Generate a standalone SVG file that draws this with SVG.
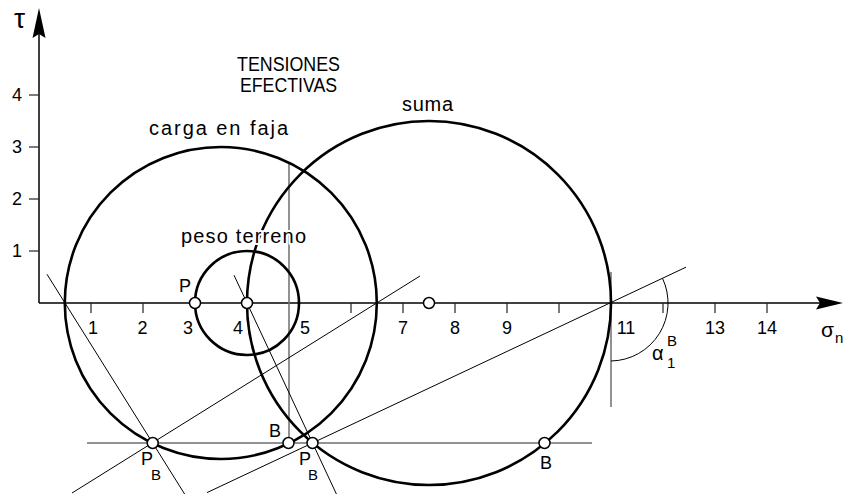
<svg xmlns="http://www.w3.org/2000/svg" width="844" height="494" viewBox="0 0 844 494">
<style>
.ax{stroke:#000;stroke-width:1.5;fill:none}
.tk{stroke:#222;stroke-width:1.2;fill:none}
.mc{stroke:#000;stroke-width:2.6;fill:none}
.cl{stroke:#000;stroke-width:1;fill:none}
.gl{stroke:#6e6e6e;stroke-width:1.5;fill:none}
.pt{stroke:#000;stroke-width:1.5;fill:#fff}
text{font-family:"Liberation Sans",Arial,sans-serif;fill:#000}
.n{font-size:18px;text-anchor:middle}
.lb{font-size:20px;stroke:#fff;stroke-width:4;paint-order:stroke;stroke-linejoin:round}
.s{font-size:18px}
.sub{font-size:15px}
</style>
<rect width="844" height="494" fill="#fff"/>
<g id="axes">
<line class="ax" x1="39" y1="303" x2="39" y2="30"/>
<line class="ax" x1="39" y1="303" x2="822" y2="303"/>
<polygon points="39,8 32.5,38 39,34 45.5,38" fill="#000"/>
<polygon points="843,303 816,296.5 820,303 816,309.5" fill="#000"/>
<g class="tk">
<line x1="91" y1="303" x2="91" y2="313"/><line x1="143" y1="303" x2="143" y2="313"/>
<line x1="351" y1="303" x2="351" y2="313"/><line x1="403" y1="303" x2="403" y2="313"/>
<line x1="455" y1="303" x2="455" y2="313"/><line x1="507" y1="303" x2="507" y2="313"/>
<line x1="559" y1="303" x2="559" y2="313"/><line x1="663" y1="303" x2="663" y2="313"/>
<line x1="715" y1="303" x2="715" y2="313"/><line x1="767" y1="303" x2="767" y2="313"/>
<line x1="29" y1="95" x2="39" y2="95"/><line x1="29" y1="147" x2="39" y2="147"/>
<line x1="29" y1="199" x2="39" y2="199"/><line x1="29" y1="251" x2="39" y2="251"/>
</g>
<g class="n">
<text x="93" y="334">1</text><text x="142.5" y="334">2</text><text x="188" y="334">3</text>
<text x="238" y="334">4</text><text x="305" y="334">5</text><text x="403" y="334">7</text>
<text x="455" y="334">8</text><text x="507" y="334">9</text><text x="626" y="334">11</text>
<text x="715" y="334">13</text><text x="767" y="334">14</text>
<text x="17" y="101">4</text><text x="17" y="153">3</text><text x="17" y="205">2</text><text x="17" y="257">1</text>
</g>
<text x="14" y="28" font-size="28px">τ</text>
<text x="821" y="337" font-size="21px">σ</text>
<text x="835" y="343" class="sub">n</text>
</g>
<g id="construction">
<line class="gl" x1="87" y1="443" x2="592" y2="443"/>
<line class="gl" x1="289" y1="163" x2="289" y2="443"/>
<line class="gl" x1="611" y1="272" x2="611" y2="407"/>
<line class="cl" x1="72" y1="493" x2="420" y2="276"/>
<line class="cl" x1="47" y1="274.3" x2="184.6" y2="494"/>
<line class="cl" x1="234" y1="275.2" x2="336.4" y2="494"/>
<line class="cl" x1="207" y1="492.6" x2="686" y2="267.2"/>
<path class="cl" d="M662.5,278.3 A58,58 0 0 1 611,361"/>
</g>
<g id="circles">
<circle id="carga-en-faja" class="mc" cx="220.8" cy="303" r="156"/>
<circle id="suma" class="mc" cx="429" cy="303" r="182"/>
<circle id="peso-terreno" class="mc" cx="247" cy="303" r="52"/>
</g>
<g id="points">
<circle class="pt" cx="195" cy="303" r="5.5"/>
<circle class="pt" cx="247" cy="303" r="5.5"/>
<circle class="pt" cx="429" cy="303" r="5.5"/>
<circle class="pt" cx="152.7" cy="443" r="5.5"/>
<circle class="pt" cx="288.5" cy="443" r="5.5"/>
<circle class="pt" cx="312.5" cy="443" r="5.5"/>
<circle class="pt" cx="544.5" cy="443" r="5.5"/>
</g>
<g id="labels">
<text class="lb" x="237" y="71" font-size="19px" textLength="103" lengthAdjust="spacingAndGlyphs">TENSIONES</text>
<text class="lb" x="240" y="92" font-size="19px" textLength="97" lengthAdjust="spacingAndGlyphs">EFECTIVAS</text>
<text class="lb" x="402" y="111" textLength="51" lengthAdjust="spacing">suma</text>
<text class="lb" x="149" y="135" textLength="139" lengthAdjust="spacing">carga  en  faja</text>
<text class="lb" x="181" y="243" textLength="125" lengthAdjust="spacing">peso  terreno</text>
<text class="s" x="179" y="292">P</text>
<text class="s" x="269" y="437">B</text>
<text class="s" x="141" y="465">P</text><text class="sub" x="151" y="480">B</text>
<text class="s" x="299" y="465">P</text><text class="sub" x="308" y="480">B</text>
<text class="s" x="540" y="469">B</text>
<text x="652" y="360" font-size="20px">α</text>
<text class="sub" x="667" y="368">1</text>
<text class="sub" x="667" y="346">B</text>
</g>
</svg>
